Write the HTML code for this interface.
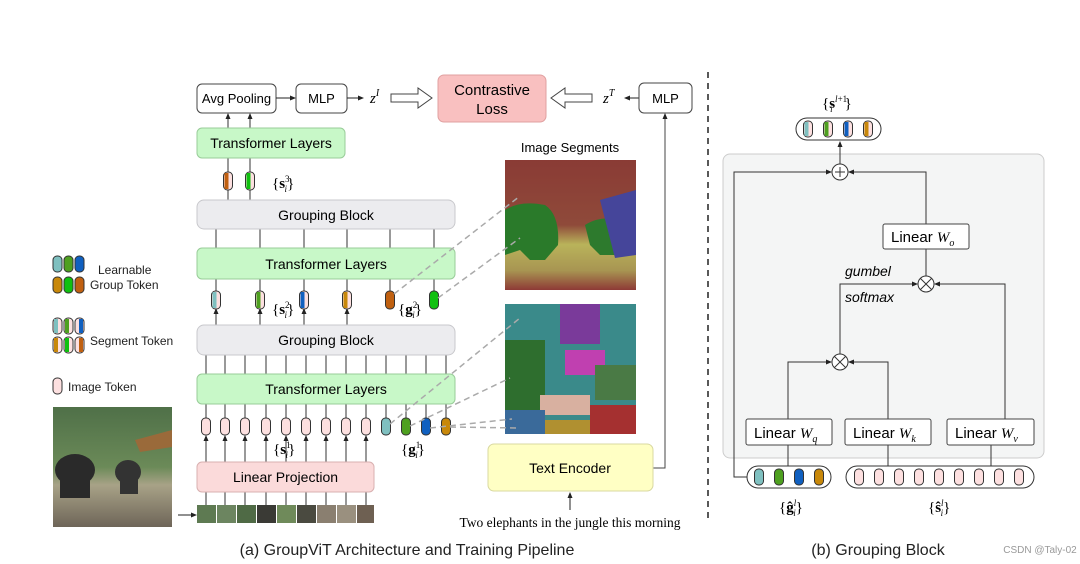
<!DOCTYPE html>
<html><head><meta charset="utf-8"><style>
body{margin:0;background:#fff}
svg{display:block}
text{font-family:"Liberation Sans",sans-serif}
.s{font-family:"Liberation Serif",serif}
</style></head><body>
<svg width="1080" height="564" viewBox="0 0 1080 564" xmlns="http://www.w3.org/2000/svg">
<defs>
<marker id="a" markerWidth="6" markerHeight="6" refX="5" refY="3" orient="auto"><path d="M0,0.5 L6,3 L0,5.5z" fill="#222"/></marker>
<linearGradient id="ph" x1="0" y1="0" x2="0" y2="1"><stop offset="0" stop-color="#4f7048"/><stop offset="0.5" stop-color="#6b8a58"/><stop offset="0.65" stop-color="#a8a287"/><stop offset="1" stop-color="#6e6558"/></linearGradient>
<linearGradient id="i1" x1="0" y1="0" x2="0" y2="1"><stop offset="0" stop-color="#8a3b35"/><stop offset="0.5" stop-color="#8f4a3a"/><stop offset="0.65" stop-color="#b9b35a"/><stop offset="0.85" stop-color="#a89552"/><stop offset="1" stop-color="#8e3a36"/></linearGradient>
</defs>

<!-- left legend -->
<g stroke="#333" stroke-width="1">
<rect x="53" y="256" width="9" height="16" rx="4" fill="#7fc0c0"/><rect x="64" y="256" width="9" height="16" rx="4" fill="#4ea020"/><rect x="75" y="256" width="9" height="16" rx="4" fill="#1060c0"/>
<rect x="53" y="277" width="9" height="16" rx="4" fill="#c8880a"/><rect x="64" y="277" width="9" height="16" rx="4" fill="#10c010"/><rect x="75" y="277" width="9" height="16" rx="4" fill="#c06010"/>
<rect x="53" y="318" width="9" height="16" rx="4" fill="#fde0e0"/><rect x="64" y="318" width="9" height="16" rx="4" fill="#fde0e0"/><rect x="75" y="318" width="9" height="16" rx="4" fill="#fde0e0"/>
<rect x="53" y="337" width="9" height="16" rx="4" fill="#fde0e0"/><rect x="64" y="337" width="9" height="16" rx="4" fill="#fde0e0"/><rect x="75" y="337" width="9" height="16" rx="4" fill="#fde0e0"/>
<rect x="53" y="378" width="9" height="16" rx="4" fill="#fde0e0"/>
</g>
<rect x="54" y="319" width="4" height="14" fill="#7fc0c0"/><rect x="65" y="319" width="4" height="14" fill="#4ea020"/><rect x="79" y="319" width="4" height="14" fill="#1060c0"/>
<rect x="54" y="338" width="4" height="14" fill="#c8880a"/><rect x="65" y="338" width="4" height="14" fill="#10c010"/><rect x="79" y="338" width="4" height="14" fill="#c06010"/>
<text x="98" y="274" font-size="12" fill="#222">Learnable</text>
<text x="90" y="289" font-size="12" fill="#222">Group Token</text>
<text x="90" y="345" font-size="12" fill="#222">Segment Token</text>
<text x="68" y="391" font-size="12" fill="#222">Image Token</text>
<rect x="53" y="407" width="119" height="120" fill="url(#ph)"/>
<ellipse cx="75" cy="470" rx="20" ry="16" fill="#2a2a2a"/><rect x="60" y="470" width="30" height="28" fill="#2a2a2a"/>
<ellipse cx="128" cy="472" rx="13" ry="12" fill="#333"/><rect x="120" y="472" width="18" height="22" fill="#333"/>
<polygon points="135,440 172,430 172,447 140,452" fill="#9a6a3a"/>
<line x1="178" y1="515" x2="196" y2="515" stroke="#222" marker-end="url(#a)"/>

<!-- patches -->
<g>
<rect x="197" y="505" width="19" height="18" fill="#5e7a52"/><rect x="217" y="505" width="19" height="18" fill="#6c8560"/><rect x="237" y="505" width="19" height="18" fill="#4f6a45"/><rect x="257" y="505" width="19" height="18" fill="#3a3a35"/><rect x="277" y="505" width="19" height="18" fill="#6f8a5a"/><rect x="297" y="505" width="19" height="18" fill="#4a4a40"/><rect x="317" y="505" width="19" height="18" fill="#8a7f70"/><rect x="337" y="505" width="19" height="18" fill="#9a907f"/><rect x="357" y="505" width="17" height="18" fill="#6e6052"/>
</g>

<!-- vertical lines -->
<g stroke="#333" stroke-width="1">
<line x1="228" y1="128" x2="228" y2="114" marker-end="url(#a)"/><line x1="250" y1="128" x2="250" y2="114" marker-end="url(#a)"/>
<line x1="228" y1="158" x2="228" y2="200"/><line x1="250" y1="158" x2="250" y2="200"/>
<line x1="216" y1="229" x2="216" y2="248"/><line x1="260" y1="229" x2="260" y2="248"/><line x1="304" y1="229" x2="304" y2="248"/><line x1="347" y1="229" x2="347" y2="248"/><line x1="390" y1="229" x2="390" y2="248"/><line x1="434" y1="229" x2="434" y2="248"/>
<line x1="216" y1="279" x2="216" y2="325"/><line x1="260" y1="279" x2="260" y2="325"/><line x1="304" y1="279" x2="304" y2="325"/><line x1="347" y1="279" x2="347" y2="325"/><line x1="390" y1="279" x2="390" y2="295"/><line x1="434" y1="279" x2="434" y2="295"/>
<line x1="206" y1="355" x2="206" y2="374"/><line x1="225" y1="355" x2="225" y2="374"/><line x1="245" y1="355" x2="245" y2="374"/><line x1="266" y1="355" x2="266" y2="374"/><line x1="286" y1="355" x2="286" y2="374"/><line x1="306" y1="355" x2="306" y2="374"/><line x1="326" y1="355" x2="326" y2="374"/><line x1="346" y1="355" x2="346" y2="374"/><line x1="366" y1="355" x2="366" y2="374"/><line x1="386" y1="355" x2="386" y2="374"/><line x1="406" y1="355" x2="406" y2="374"/><line x1="426" y1="355" x2="426" y2="374"/><line x1="446" y1="355" x2="446" y2="374"/>
<line x1="206" y1="404" x2="206" y2="418"/><line x1="225" y1="404" x2="225" y2="418"/><line x1="245" y1="404" x2="245" y2="418"/><line x1="266" y1="404" x2="266" y2="418"/><line x1="286" y1="404" x2="286" y2="418"/><line x1="306" y1="404" x2="306" y2="418"/><line x1="326" y1="404" x2="326" y2="418"/><line x1="346" y1="404" x2="346" y2="418"/><line x1="366" y1="404" x2="366" y2="418"/><line x1="386" y1="404" x2="386" y2="418"/><line x1="406" y1="404" x2="406" y2="418"/><line x1="426" y1="404" x2="426" y2="418"/><line x1="446" y1="404" x2="446" y2="418"/>
<g marker-end="url(#a)">
<line x1="206" y1="462" x2="206" y2="436"/><line x1="225" y1="462" x2="225" y2="436"/><line x1="245" y1="462" x2="245" y2="436"/><line x1="266" y1="462" x2="266" y2="436"/><line x1="286" y1="462" x2="286" y2="436"/><line x1="306" y1="462" x2="306" y2="436"/><line x1="326" y1="462" x2="326" y2="436"/><line x1="346" y1="462" x2="346" y2="436"/><line x1="366" y1="462" x2="366" y2="436"/>
<line x1="216" y1="325" x2="216" y2="309"/><line x1="260" y1="325" x2="260" y2="309"/><line x1="304" y1="325" x2="304" y2="309"/><line x1="347" y1="325" x2="347" y2="309"/>
</g>
<g><line x1="206" y1="492" x2="206" y2="505"/><line x1="225" y1="492" x2="225" y2="505"/><line x1="245" y1="492" x2="245" y2="505"/><line x1="266" y1="492" x2="266" y2="505"/><line x1="286" y1="492" x2="286" y2="505"/><line x1="306" y1="492" x2="306" y2="505"/><line x1="326" y1="492" x2="326" y2="505"/><line x1="346" y1="492" x2="346" y2="505"/><line x1="366" y1="492" x2="366" y2="505"/></g>
</g>

<!-- boxes -->
<rect x="197" y="84" width="79" height="29" rx="5" fill="#fff" stroke="#444"/>
<text x="236.5" y="103" font-size="13" text-anchor="middle">Avg Pooling</text>
<line x1="276" y1="98" x2="295" y2="98" stroke="#222" marker-end="url(#a)"/>
<rect x="296" y="84" width="51" height="29" rx="5" fill="#fff" stroke="#444"/>
<text x="321.5" y="103" font-size="13" text-anchor="middle">MLP</text>
<line x1="347" y1="98" x2="363" y2="98" stroke="#222" marker-end="url(#a)"/>
<text x="370" y="103" font-size="15" class="s" font-style="italic">z<tspan font-size="10" dy="-7">I</tspan></text>
<path d="M391,94 H418 V88 L432,98 L418,108 V102 H391z" fill="#fff" stroke="#444"/>
<rect x="438" y="75" width="108" height="47" rx="6" fill="#f9c0c0" stroke="#e0a0a0"/>
<text x="492" y="95" font-size="15" text-anchor="middle">Contrastive</text>
<text x="492" y="114" font-size="15" text-anchor="middle">Loss</text>
<path d="M592,94 H565 V88 L551,98 L565,108 V102 H592z" fill="#fff" stroke="#444"/>
<text x="603" y="103" font-size="15" class="s" font-style="italic">z<tspan font-size="10" dy="-7">T</tspan></text>
<line x1="639" y1="98" x2="625" y2="98" stroke="#222" marker-end="url(#a)"/>
<rect x="639" y="83" width="53" height="30" rx="5" fill="#fff" stroke="#444"/>
<text x="665.5" y="103" font-size="13" text-anchor="middle">MLP</text>
<path d="M653,468 H665 V114" fill="none" stroke="#444" marker-end="url(#a)"/>

<rect x="197" y="128" width="148" height="30" rx="5" fill="#c8f8c8" stroke="#9c9"/>
<text x="271" y="148" font-size="14" text-anchor="middle">Transformer Layers</text>
<rect x="197" y="200" width="258" height="29" rx="7" fill="#ececef" stroke="#c8c8cc"/>
<text x="326" y="220" font-size="14" text-anchor="middle">Grouping Block</text>
<rect x="197" y="248" width="258" height="31" rx="5" fill="#c8f8c8" stroke="#9c9"/>
<text x="326" y="269" font-size="14" text-anchor="middle">Transformer Layers</text>
<rect x="197" y="325" width="258" height="30" rx="7" fill="#ececef" stroke="#c8c8cc"/>
<text x="326" y="345" font-size="14" text-anchor="middle">Grouping Block</text>
<rect x="197" y="374" width="258" height="30" rx="5" fill="#c8f8c8" stroke="#9c9"/>
<text x="326" y="394" font-size="14" text-anchor="middle">Transformer Layers</text>
<rect x="197" y="462" width="177" height="30" rx="5" fill="#fbdada" stroke="#d8b0b0"/>
<text x="285.5" y="482" font-size="14" text-anchor="middle">Linear Projection</text>

<!-- tokens -->
<g stroke="#333" stroke-width="1">
<rect x="223.5" y="172" width="9" height="18" rx="4" fill="#fde0e0"/><rect x="245.5" y="172" width="9" height="18" rx="4" fill="#fde0e0"/>
<rect x="211.5" y="291" width="9" height="18" rx="4" fill="#fde0e0"/><rect x="255.5" y="291" width="9" height="18" rx="4" fill="#fde0e0"/><rect x="299.5" y="291" width="9" height="18" rx="4" fill="#fde0e0"/><rect x="342.5" y="291" width="9" height="18" rx="4" fill="#fde0e0"/>
<rect x="385.5" y="291" width="9" height="18" rx="4" fill="#c06010"/><rect x="429.5" y="291" width="9" height="18" rx="4" fill="#10c010"/>
</g>
<rect x="224.5" y="173" width="4" height="16" fill="#c06010"/><rect x="246.5" y="173" width="4" height="16" fill="#10c010"/>
<rect x="212.5" y="292" width="4" height="16" fill="#7fc0c0"/><rect x="256.5" y="292" width="4" height="16" fill="#4ea020"/><rect x="300.5" y="292" width="4" height="16" fill="#1060c0"/><rect x="343.5" y="292" width="4" height="16" fill="#c8880a"/>
<g stroke="#333" stroke-width="1">
<rect x="201.5" y="418" width="9" height="17" rx="4" fill="#fde0e0"/><rect x="220.5" y="418" width="9" height="17" rx="4" fill="#fde0e0"/><rect x="240.5" y="418" width="9" height="17" rx="4" fill="#fde0e0"/><rect x="261.5" y="418" width="9" height="17" rx="4" fill="#fde0e0"/><rect x="281.5" y="418" width="9" height="17" rx="4" fill="#fde0e0"/><rect x="301.5" y="418" width="9" height="17" rx="4" fill="#fde0e0"/><rect x="321.5" y="418" width="9" height="17" rx="4" fill="#fde0e0"/><rect x="341.5" y="418" width="9" height="17" rx="4" fill="#fde0e0"/><rect x="361.5" y="418" width="9" height="17" rx="4" fill="#fde0e0"/>
<rect x="381.5" y="418" width="9" height="17" rx="4" fill="#7fc0c0"/><rect x="401.5" y="418" width="9" height="17" rx="4" fill="#4ea020"/><rect x="421.5" y="418" width="9" height="17" rx="4" fill="#1060c0"/><rect x="441.5" y="418" width="9" height="17" rx="4" fill="#c8880a"/>
</g>
<text x="272" y="188" font-size="15" class="s">{<tspan font-weight="bold">s</tspan><tspan font-size="9" dy="-6">3</tspan><tspan font-size="9" dx="-5" dy="10" font-style="italic">i</tspan><tspan dy="-4">}</tspan></text>
<text x="272" y="314" font-size="15" class="s">{<tspan font-weight="bold">s</tspan><tspan font-size="9" dy="-6">2</tspan><tspan font-size="9" dx="-5" dy="10" font-style="italic">i</tspan><tspan dy="-4">}</tspan></text>
<text x="398" y="314" font-size="15" class="s">{<tspan font-weight="bold">g</tspan><tspan font-size="9" dy="-6">2</tspan><tspan font-size="9" dx="-5" dy="10" font-style="italic">i</tspan><tspan dy="-4">}</tspan></text>
<text x="273" y="454" font-size="15" class="s">{<tspan font-weight="bold">s</tspan><tspan font-size="9" dy="-6">1</tspan><tspan font-size="9" dx="-5" dy="10" font-style="italic">i</tspan><tspan dy="-4">}</tspan></text>
<text x="401" y="454" font-size="15" class="s">{<tspan font-weight="bold">g</tspan><tspan font-size="9" dy="-6">1</tspan><tspan font-size="9" dx="-5" dy="10" font-style="italic">i</tspan><tspan dy="-4">}</tspan></text>

<!-- segment images -->
<text x="570" y="152" font-size="13" text-anchor="middle">Image Segments</text>
<rect x="505" y="160" width="131" height="130" fill="url(#i1)"/>
<path d="M505,210 Q520,200 545,205 Q560,215 558,245 L545,260 L530,260 L520,250 L505,255z" fill="#2a7a2a"/>
<path d="M585,225 Q600,215 622,220 L622,255 L600,255 L590,245z" fill="#2d7a2d"/>
<path d="M600,200 L636,190 L636,255 L615,258z" fill="#45459a"/>
<rect x="505" y="304" width="131" height="130" fill="#3a8a8a"/>
<rect x="560" y="304" width="40" height="40" fill="#7a3a9a"/>
<rect x="505" y="340" width="40" height="70" fill="#2e6e2e"/>
<rect x="565" y="350" width="40" height="25" fill="#c040b0"/>
<rect x="595" y="365" width="41" height="35" fill="#4a7a45"/>
<rect x="540" y="395" width="50" height="20" fill="#d8b0a0"/>
<rect x="505" y="410" width="40" height="24" fill="#3a6a9a"/>
<rect x="590" y="405" width="46" height="29" fill="#a53030"/>
<rect x="545" y="420" width="45" height="14" fill="#b09030"/>

<g stroke="#aaa" stroke-width="1.5" stroke-dasharray="6,4" fill="none">
<line x1="394" y1="294" x2="520" y2="196"/><line x1="438" y1="298" x2="520" y2="238"/>
<line x1="390" y1="424" x2="520" y2="318"/><line x1="410" y1="426" x2="510" y2="378"/>
<line x1="430" y1="428" x2="512" y2="419"/><line x1="450" y1="427" x2="520" y2="428"/>
</g>

<rect x="488" y="444" width="165" height="47" rx="6" fill="#ffffc4" stroke="#d8d8a0"/>
<text x="570" y="473" font-size="14" text-anchor="middle">Text Encoder</text>
<line x1="570" y1="510" x2="570" y2="493" stroke="#222" marker-end="url(#a)"/>
<text x="570" y="527" font-size="13.5" class="s" text-anchor="middle">Two elephants in the jungle this morning</text>

<line x1="708" y1="72" x2="708" y2="520" stroke="#222" stroke-width="1.5" stroke-dasharray="6,5"/>

<!-- right panel -->
<rect x="723" y="154" width="321" height="304" rx="7" fill="#f4f5f5" stroke="#ccc"/>
<text x="822" y="108" font-size="15" class="s">{<tspan font-weight="bold">s</tspan><tspan font-size="9" dy="-6" font-style="italic">l</tspan><tspan font-size="9">+1</tspan><tspan font-size="9" dx="-17" dy="10" font-style="italic">i</tspan><tspan dx="12" dy="-4">}</tspan></text>
<rect x="796" y="118" width="85" height="22" rx="11" fill="#fff" stroke="#333"/>
<g stroke="#333"><rect x="803.5" y="121" width="9" height="16" rx="4" fill="#fde0e0"/><rect x="823.5" y="121" width="9" height="16" rx="4" fill="#fde0e0"/><rect x="843.5" y="121" width="9" height="16" rx="4" fill="#fde0e0"/><rect x="863.5" y="121" width="9" height="16" rx="4" fill="#fde0e0"/></g>
<rect x="804.5" y="122" width="4" height="14" fill="#7fc0c0"/><rect x="824.5" y="122" width="4" height="14" fill="#4ea020"/><rect x="844.5" y="122" width="4" height="14" fill="#1060c0"/><rect x="864.5" y="122" width="4" height="14" fill="#c8880a"/>

<g stroke="#333" fill="none" stroke-width="1">
<line x1="840" y1="164" x2="840" y2="142" marker-end="url(#a)"/>
<path d="M747,477 H734 V172 H831" marker-end="url(#a)"/>
<path d="M926,224 V172 H849" marker-end="url(#a)"/>
<line x1="926" y1="249" x2="926" y2="276"/>
<path d="M840,354 V284 H917" marker-end="url(#a)"/>
<path d="M1005,419 V284 H935" marker-end="url(#a)"/>
<path d="M788,419 V362 H831" marker-end="url(#a)"/>
<path d="M888,419 V362 H849" marker-end="url(#a)"/>
<line x1="788" y1="445" x2="788" y2="466"/><line x1="888" y1="445" x2="888" y2="466"/><line x1="991" y1="445" x2="991" y2="466"/>
</g>
<g stroke="#333" fill="#fff">
<circle cx="840" cy="172" r="8"/><circle cx="926" cy="284" r="8"/><circle cx="840" cy="362" r="8"/>
</g>
<g stroke="#333">
<line x1="835" y1="172" x2="845" y2="172"/><line x1="840" y1="167" x2="840" y2="177"/>
<line x1="920.5" y1="278.5" x2="931.5" y2="289.5"/><line x1="931.5" y1="278.5" x2="920.5" y2="289.5"/>
<line x1="834.5" y1="356.5" x2="845.5" y2="367.5"/><line x1="845.5" y1="356.5" x2="834.5" y2="367.5"/>
</g>
<rect x="883" y="224" width="86" height="25" rx="2" fill="#fff" stroke="#444"/>
<text x="891" y="242" font-size="15">Linear <tspan class="s" font-style="italic">W</tspan><tspan class="s" font-style="italic" font-size="10" dy="4">o</tspan></text>
<text x="845" y="276" font-size="14" font-style="italic">gumbel</text>
<text x="845" y="302" font-size="14" font-style="italic">softmax</text>
<rect x="746" y="419" width="86" height="26" rx="2" fill="#fff" stroke="#444"/>
<text x="754" y="438" font-size="15">Linear <tspan class="s" font-style="italic">W</tspan><tspan class="s" font-style="italic" font-size="10" dy="4">q</tspan></text>
<rect x="845" y="419" width="86" height="26" rx="2" fill="#fff" stroke="#444"/>
<text x="853" y="438" font-size="15">Linear <tspan class="s" font-style="italic">W</tspan><tspan class="s" font-style="italic" font-size="10" dy="4">k</tspan></text>
<rect x="947" y="419" width="87" height="26" rx="2" fill="#fff" stroke="#444"/>
<text x="955" y="438" font-size="15">Linear <tspan class="s" font-style="italic">W</tspan><tspan class="s" font-style="italic" font-size="10" dy="4">v</tspan></text>

<rect x="747" y="466" width="84" height="22" rx="11" fill="#fff" stroke="#333"/>
<g stroke="#333"><rect x="754.5" y="469" width="9" height="16" rx="4" fill="#7fc0c0"/><rect x="774.5" y="469" width="9" height="16" rx="4" fill="#4ea020"/><rect x="794.5" y="469" width="9" height="16" rx="4" fill="#1060c0"/><rect x="814.5" y="469" width="9" height="16" rx="4" fill="#c8880a"/></g>
<rect x="846" y="466" width="188" height="22" rx="11" fill="#fff" stroke="#333"/>
<g stroke="#333" fill="#fde0e0"><rect x="854.5" y="469" width="9" height="16" rx="4"/><rect x="874.5" y="469" width="9" height="16" rx="4"/><rect x="894.5" y="469" width="9" height="16" rx="4"/><rect x="914.5" y="469" width="9" height="16" rx="4"/><rect x="934.5" y="469" width="9" height="16" rx="4"/><rect x="954.5" y="469" width="9" height="16" rx="4"/><rect x="974.5" y="469" width="9" height="16" rx="4"/><rect x="994.5" y="469" width="9" height="16" rx="4"/><rect x="1014.5" y="469" width="9" height="16" rx="4"/></g>
<text x="779" y="512" font-size="15" class="s">{<tspan font-weight="bold">ĝ</tspan><tspan font-size="9" dy="-6" font-style="italic">l</tspan><tspan font-size="9" dx="-3" dy="10" font-style="italic">i</tspan><tspan dy="-4">}</tspan></text>
<text x="928" y="512" font-size="15" class="s">{<tspan font-weight="bold">ŝ</tspan><tspan font-size="9" dy="-6" font-style="italic">l</tspan><tspan font-size="9" dx="-3" dy="10" font-style="italic">i</tspan><tspan dy="-4">}</tspan></text>

<text x="407" y="555" font-size="16" text-anchor="middle" fill="#222">(a) GroupViT Architecture and Training Pipeline</text>
<text x="878" y="555" font-size="16" text-anchor="middle" fill="#222">(b) Grouping Block</text>
<text x="1040" y="553" font-size="10" text-anchor="middle" fill="#999">CSDN @Taly-02</text>
</svg>
</body></html>
